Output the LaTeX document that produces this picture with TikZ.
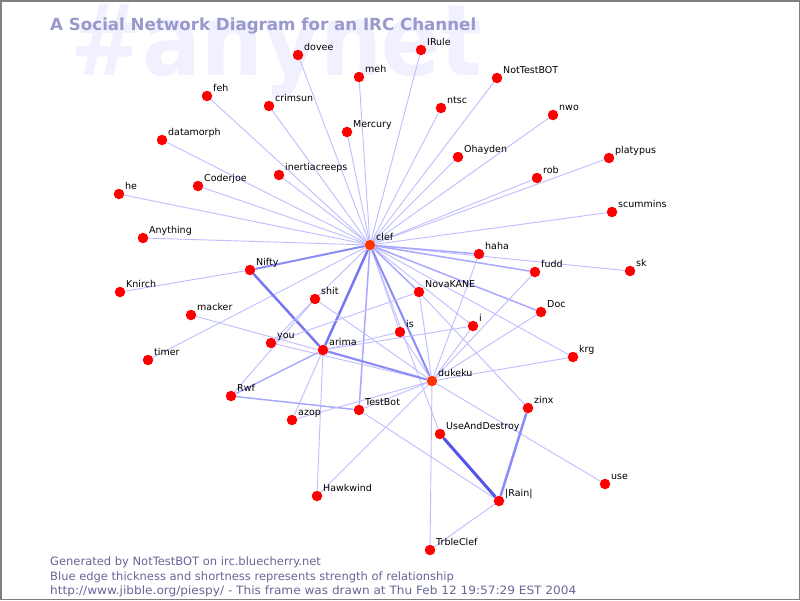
\documentclass[tikz,border=0pt]{standalone}
\usepackage{fontspec}
\setmainfont{DejaVu Sans}
\definecolor{nodered}{RGB}{255,0,0}
\definecolor{hubred}{RGB}{255,51,0}
\definecolor{edgeA}{RGB}{190,190,255}
\definecolor{edgeB}{RGB}{168,168,255}
\definecolor{edgeC}{RGB}{140,140,248}
\definecolor{edgeD}{RGB}{120,120,240}
\definecolor{edgeE}{RGB}{85,85,236}
\definecolor{titleblue}{RGB}{153,153,204}
\definecolor{wmcolor}{RGB}{240,240,255}
\definecolor{footcolor}{RGB}{102,102,153}
\definecolor{framegray}{RGB}{128,128,128}
\pgfdeclarelayer{paper}
\pgfdeclarelayer{wm}
\pgfdeclarelayer{edges}
\pgfsetlayers{paper,wm,edges,main}
\newcommand\pnode[4]{\node[#1] (#2) at (#3) {};
  \node[lbl] (#2L) at ([shift={(6pt,5pt)}]#2.center) {#4};}
\begin{document}
\begin{tikzpicture}[x=1pt,y=-1pt,
  dot/.style={circle,fill=nodered,draw=none,inner sep=0pt,minimum size=10.5pt},
  hub/.style={dot,fill=hubred},
  lbl/.style={anchor=base west,inner sep=0pt,font=\fontsize{9.5}{11}\selectfont,text=black},
  ea/.style={draw=edgeA,line width=0.9pt},
  eb/.style={draw=edgeB,line width=1.5pt},
  ec/.style={draw=edgeC,line width=2pt},
  ed/.style={draw=edgeD,line width=2.5pt},
  ee/.style={draw=edgeE,line width=3pt},
  foot/.style={anchor=base west,inner sep=0pt,text=footcolor,font=\fontsize{11.5}{13}\selectfont}]
\useasboundingbox (0,0) rectangle (800,600);
\begin{pgfonlayer}{paper}
\fill[white] (0,0) rectangle (800,600);
\end{pgfonlayer}
\draw[framegray,line width=1.5pt] (0.75,0.75) rectangle (799.25,599.25);
% watermark and title
\begin{pgfonlayer}{wm}
\node[anchor=base west,inner sep=0pt,text=wmcolor] (wmark) at (70,75) {\resizebox{412pt}{71pt}{\bfseries\#anynet}};
\end{pgfonlayer}
\node[anchor=base west,inner sep=0pt,text=titleblue] (title) at (50,30) {\resizebox{426pt}{!}{\bfseries A Social Network Diagram for an IRC Channel}};
% people
\pnode{dot}{dovee}{298,55}{dovee}
\pnode{dot}{meh}{359,77}{meh}
\pnode{dot}{IRule}{421,50}{IRule}
\pnode{dot}{NotTestBOT}{497,78}{NotTestBOT}
\pnode{dot}{feh}{207,96}{feh}
\pnode{dot}{crimsun}{269,106}{crimsun}
\pnode{dot}{ntsc}{441,108}{ntsc}
\pnode{dot}{nwo}{553,115}{nwo}
\pnode{dot}{datamorph}{162,140}{datamorph}
\pnode{dot}{Mercury}{347,132}{Mercury}
\pnode{dot}{Ohayden}{458,157}{Ohayden}
\pnode{dot}{platypus}{609,158}{platypus}
\pnode{dot}{rob}{537,178}{rob}
\pnode{dot}{inertiacreeps}{279,175}{inertiacreeps}
\pnode{dot}{Coderjoe}{198,186}{Coderjoe}
\pnode{dot}{he}{119,194}{he}
\pnode{dot}{scummins}{612,212}{scummins}
\pnode{dot}{Anything}{143,238}{Anything}
\pnode{hub}{clef}{370,245}{clef}
\pnode{dot}{haha}{479,254}{haha}
\pnode{dot}{Nifty}{250,270}{Nifty}
\pnode{dot}{fudd}{535,272}{fudd}
\pnode{dot}{sk}{630,271}{sk}
\pnode{dot}{Knirch}{120,292}{Knirch}
\pnode{dot}{NovaKANE}{419,292}{NovaKANE}
\pnode{dot}{shit}{315,299}{shit}
\pnode{dot}{macker}{191,315}{macker}
\pnode{dot}{Doc}{541,312}{Doc}
\pnode{dot}{i}{473,326}{i}
\pnode{dot}{is}{400,332}{is}
\pnode{dot}{you}{271,343}{you}
\pnode{dot}{arima}{323,350}{arima}
\pnode{dot}{timer}{148,360}{timer}
\pnode{dot}{krg}{573,357}{krg}
\pnode{hub}{dukeku}{432,381}{dukeku}
\pnode{dot}{Rwf}{231,396}{Rwf}
\pnode{dot}{zinx}{528,408}{zinx}
\pnode{dot}{TestBot}{359,410}{TestBot}
\pnode{dot}{azop}{292,420}{azop}
\pnode{dot}{UseAndDestroy}{440,434}{UseAndDestroy}
\pnode{dot}{use}{605,484}{use}
\pnode{dot}{Hawkwind}{317,496}{Hawkwind}
\pnode{dot}{Rain}{499,501}{|Rain|}
\pnode{dot}{TrbleClef}{430,550}{TrbleClef}
% relationships
\begin{pgfonlayer}{edges}
\foreach \n in {dovee,meh,IRule,NotTestBOT,feh,crimsun,ntsc,nwo,datamorph,Mercury,Ohayden,platypus,rob,inertiacreeps,Coderjoe,he,scummins,Anything,sk,krg,timer,shit,is,i,UseAndDestroy}
  \draw[ea] (clef) -- (\n);
\foreach \n in {haha,fudd,NovaKANE,Doc,TestBot}
  \draw[eb] (clef) -- (\n);
\draw[ec] (clef) -- (Nifty);
\draw[ec] (clef) -- (dukeku);
\draw[ed] (clef) -- (arima);
\draw[ed] (Nifty) -- (arima);
\draw[ea] (Knirch) -- (Nifty);
\draw[ea] (macker) -- (dukeku);
\draw[ea] (you) -- (shit);
\draw[ea] (shit) -- (Rwf);
\draw[ea] (shit) -- (dukeku);
\draw[ea] (you) -- (dukeku);
\draw[ea] (NovaKANE) -- (you);
\draw[eb] (arima) -- (Rwf);
\draw[ea] (arima) -- (azop);
\draw[ea] (arima) -- (Hawkwind);
\draw[ec] (arima) -- (dukeku);
\draw[ea] (arima) -- (is);
\draw[ea] (arima) -- (i);
\draw[eb] (Rwf) -- (TestBot);
\draw[ea] (azop) -- (dukeku);
\draw[ea] (TestBot) -- (dukeku);
\draw[ea] (TestBot) -- (Rain);
\draw[ea] (Hawkwind) -- (dukeku);
\draw[ea] (NovaKANE) -- (dukeku);
\draw[ea] (NovaKANE) -- (zinx);
\draw[ea] (is) -- (dukeku);
\foreach \n in {haha,i,fudd,Doc,krg,use,TrbleClef}
  \draw[ea] (dukeku) -- (\n);
\draw[ea] (TrbleClef) -- (Rain);
\draw[ee] (UseAndDestroy) -- (Rain);
\draw[ed,draw=edgeC] (zinx) -- (Rain);
\end{pgfonlayer}
% footer
\node[foot] (f1) at (50,565) {Generated by NotTestBOT on irc.bluecherry.net};
\node[foot] (f2) at (50,580) {Blue edge thickness and shortness represents strength of relationship};
\node[foot] (f3) at (50,594.5) {\resizebox{526pt}{\height}{http://www.jibble.org/piespy/ - This frame was drawn at Thu Feb 12 19:57:29 EST 2004}};
\end{tikzpicture}
\end{document}
